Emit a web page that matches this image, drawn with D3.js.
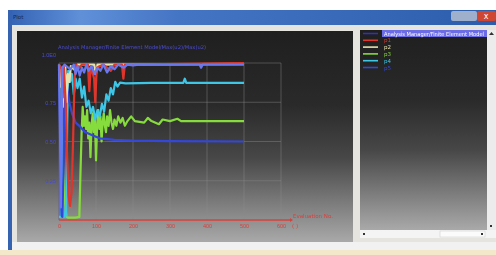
<!DOCTYPE html>
<html>
<head>
<meta charset="utf-8">
<script src="https://cdn.jsdelivr.net/npm/d3@7"></script>
<style>
body { margin: 0; background: #fff; }
svg { display: block; font-family: "DejaVu Sans", sans-serif; }
</style>
</head>
<body>
<svg id="chart" width="496" height="255"></svg>
<script>
// tick labels
const evalTicks = [0, 100, 200, 300, 400, 500, 600];
const valueTicks = [0.25, 0.5, 0.75, 1];
const valueLabels = ["0.25", "0.50", "0.75", "1.0E0"];

// legend entries
const legendNames = ["Analysis Manager/Finite Element Model", "p1", "p2", "p3", "p4", "p5"];
const legendColors = ["#6a78f0", "#e0352a", "#e6e2b0", "#86dc3c", "#3cc6e6", "#3446d8"];

// series values: [evaluation no., value]
const envelope = [[0,0.99],[3,0.5],[5,0.08],[7,0.5],[9,0.97],[15,0.99],[30,0.96],[40,0.99],[45,0.93],
  [50,0.98],[56,0.92],[62,0.97],[68,0.94],[74,0.99],[80,0.95],[88,0.98],[96,0.93],[104,0.97],[112,0.95],
  [120,0.99],[130,0.94],[140,0.98],[150,0.96],[160,0.99],[175,0.97],[185,0.99],[200,0.985],[215,0.99],
  [380,0.99],[384,0.97],[388,0.99],[500,0.99]];
const p1 = [[0,0.99],[6,0.97],[10,0.78],[13,0.98],[18,0.75],[22,0.4],[26,0.15],[30,0.09],[34,0.18],
  [38,0.5],[42,0.9],[46,0.99],[55,0.97],[62,0.99],[78,0.99],[82,0.82],[86,0.98],[95,0.9],[98,0.75],
  [102,0.97],[120,0.99],[140,0.95],[150,0.99],[170,0.99],[174,0.9],[178,0.99],[500,1.0]];
const p2 = [[0,0.99],[4,0.85],[7,0.96],[10,0.72],[13,0.9],[17,0.98],[20,0.75],[24,0.93],[28,0.88],
  [32,0.98],[40,0.96],[50,0.99],[95,0.99],[100,0.93],[104,0.99],[500,0.995]];
const p3 = [[0,0.96],[5,0.7],[10,0.4],[16,0.12],[20,0.02],[25,0.015],[35,0.015],[45,0.015],[55,0.02],
  [58,0.3],[61,0.55],[64,0.72],[67,0.6],[70,0.66],[73,0.58],[76,0.7],[79,0.52],[82,0.62],[85,0.4],
  [88,0.6],[91,0.68],[94,0.56],[97,0.64],[100,0.38],[103,0.6],[106,0.7],[109,0.58],[112,0.66],[115,0.5],
  [118,0.62],[121,0.68],[124,0.6],[127,0.56],[130,0.66],[134,0.6],[138,0.7],[142,0.62],[146,0.58],
  [150,0.64],[155,0.6],[160,0.66],[166,0.62],[172,0.65],[178,0.6],[185,0.63],[195,0.66],[205,0.63],
  [230,0.62],[240,0.65],[250,0.63],[270,0.61],[280,0.64],[300,0.63],[320,0.645],[330,0.63],[500,0.63]];
const p4 = [[0,0.02],[6,0.02],[9,0.55],[11,0.1],[14,0.02],[19,0.03],[22,0.6],[25,0.95],[30,0.88],
  [35,0.93],[40,0.8],[45,0.9],[50,0.84],[56,0.9],[62,0.78],[68,0.85],[74,0.72],[80,0.76],[86,0.68],
  [92,0.72],[98,0.64],[104,0.7],[110,0.66],[116,0.74],[122,0.69],[128,0.8],[134,0.76],[140,0.84],
  [146,0.8],[152,0.88],[158,0.85],[165,0.875],[180,0.87],[250,0.873],[336,0.873],[340,0.9],[344,0.873],
  [500,0.873]];
const p5 = [[0,0.98],[3,0.6],[5,0.2],[7,0.03],[9,0.02],[12,0.3],[14,0.8],[17,0.92],[22,0.85],[28,0.75],
  [35,0.68],[45,0.62],[55,0.6],[70,0.56],[90,0.54],[110,0.52],[150,0.51],[200,0.505],[300,0.502],
  [500,0.5]];

const svg = d3.select("#chart");
const defs = svg.append("defs");

function vGrad(id, stops) {
  const g = defs.append("linearGradient").attr("id", id)
    .attr("x1", 0).attr("y1", 0).attr("x2", 0).attr("y2", 1);
  stops.forEach(s => g.append("stop").attr("offset", s[0]).attr("stop-color", s[1]));
}
vGrad("panelGrad", [[0, "#1f1f1f"], [0.35, "#2a2a2a"], [0.6, "#474747"], [1, "#a9a9a9"]]);
const tb = defs.append("linearGradient").attr("id", "titleGrad");
[[0, "#3462b4"], [0.15, "#5f90d8"], [0.35, "#4474c4"], [0.7, "#3868b8"], [1, "#2c5cac"]]
  .forEach(s => tb.append("stop").attr("offset", s[0]).attr("stop-color", s[1]));
defs.append("filter").attr("id", "soft")
  .append("feGaussianBlur").attr("stdDeviation", 0.45);

// window chrome
svg.append("rect").attr("x", 8).attr("y", 10).attr("width", 488).attr("height", 242).attr("fill", "#e6e4df");
svg.append("rect").attr("x", 8).attr("y", 10).attr("width", 488).attr("height", 15).attr("fill", "url(#titleGrad)");
svg.append("rect").attr("x", 8).attr("y", 10).attr("width", 4).attr("height", 243).attr("fill", "#3563b2");
svg.append("text").attr("x", 13).attr("y", 19).attr("font-size", 5.5).attr("fill", "#1a2a44").text("Plot");
svg.append("rect").attr("x", 451).attr("y", 11).attr("width", 26).attr("height", 10).attr("rx", 2).attr("fill", "#9fb0cc");
svg.append("rect").attr("x", 477).attr("y", 11).attr("width", 19).attr("height", 10).attr("rx", 2).attr("fill", "#cf4632");
svg.append("text").attr("x", 486).attr("y", 19).attr("text-anchor", "middle").attr("font-size", 8).attr("fill", "#fff").text("x");
svg.append("rect").attr("x", 0).attr("y", 250).attr("width", 496).attr("height", 5).attr("fill", "#f4e8cb");
svg.append("rect").attr("x", 12).attr("y", 242).attr("width", 484).attr("height", 8).attr("fill", "#f1f1f1");

// panels
svg.append("rect").attr("x", 17).attr("y", 31).attr("width", 336).attr("height", 211).attr("fill", "url(#panelGrad)");
svg.append("rect").attr("x", 360).attr("y", 30).attr("width", 127).attr("height", 200).attr("fill", "url(#panelGrad)");
svg.append("rect").attr("x", 487).attr("y", 30).attr("width", 9).attr("height", 200).attr("fill", "#ececec");
svg.append("rect").attr("x", 360).attr("y", 230).attr("width", 136).attr("height", 8).attr("fill", "#f4f4f4");
svg.append("rect").attr("x", 440).attr("y", 231).attr("width", 45).attr("height", 6).attr("fill", "#fbfbfb").attr("stroke", "#c8c8c8").attr("stroke-width", 0.5);
[[364, 234], [482, 234], [491, 226]].forEach(p =>
  svg.append("rect").attr("x", p[0] - 1).attr("y", p[1] - 1).attr("width", 2).attr("height", 2).attr("fill", "#333"));
svg.append("path").attr("d", "M489,35 L491.5,32 L494,35 Z").attr("fill", "#333");

// plot
const x = d3.scaleLinear().domain([0, 600]).range([59, 281]);
const y = d3.scaleLinear().domain([0, 1]).range([220, 63]);
const plot = svg.append("g").attr("filter", "url(#soft)");

plot.append("g").selectAll("line").data(evalTicks.slice(1)).join("line")
  .attr("x1", d => x(d)).attr("x2", d => x(d)).attr("y1", y(0)).attr("y2", y(1))
  .attr("stroke", "#8a8a8a").attr("stroke-opacity", 0.55).attr("stroke-width", 0.8);
plot.append("g").selectAll("line").data(valueTicks).join("line")
  .attr("x1", x(0)).attr("x2", x(600)).attr("y1", d => y(d)).attr("y2", d => y(d))
  .attr("stroke", "#8a8a8a").attr("stroke-opacity", 0.55).attr("stroke-width", 0.8);
plot.append("line").attr("x1", x(0)).attr("x2", x(0)).attr("y1", y(0)).attr("y2", y(1))
  .attr("stroke", "#5a5a8a").attr("stroke-width", 0.8);

const line = d3.line().x(d => x(d[0])).y(d => y(d[1]));
const drawOrder = [[p3, 3], [p4, 4], [p5, 5], [p2, 2], [p1, 1], [envelope, 0]];
plot.append("g").selectAll("path").data(drawOrder).join("path")
  .attr("d", d => line(d[0])).attr("fill", "none")
  .attr("stroke", d => legendColors[d[1]]).attr("stroke-width", 2.2)
  .attr("stroke-linejoin", "round");

// x axis
const xAxis = plot.append("g").attr("transform", `translate(0,${y(0)})`)
  .call(d3.axisBottom(x).tickValues(evalTicks).tickSize(0).tickPadding(4).tickFormat(d3.format("d")));
xAxis.select(".domain").remove();
xAxis.selectAll("text").attr("fill", "#d8403c").attr("font-size", 5.5);
plot.append("line").attr("x1", x(0)).attr("x2", 290).attr("y1", y(0)).attr("y2", y(0))
  .attr("stroke", "#d8403c").attr("stroke-width", 1.3);
plot.append("path").attr("d", `M290,${y(0) - 2} L293,${y(0)} L290,${y(0) + 2} Z`).attr("fill", "#d8403c");
plot.append("text").attr("x", 293).attr("y", y(0) - 2).attr("font-size", 5.5).attr("fill", "#d8403c").text("Evaluation No.");
plot.append("text").attr("x", 292).attr("y", y(0) + 8).attr("font-size", 5.5).attr("fill", "#d8403c").text("( )");

// y axis labels
const yAxis = plot.append("g").attr("transform", `translate(${x(0) - 1},0)`)
  .call(d3.axisLeft(y).tickValues(valueTicks).tickSize(0).tickPadding(2)
    .tickFormat((d, i) => valueLabels[i]));
yAxis.select(".domain").remove();
yAxis.selectAll("text").attr("fill", "#4a4ad6").attr("font-size", 5.5);
yAxis.selectAll(".tick").filter(d => d === 1).select("text").attr("dy", "-1.2em");

plot.append("text").attr("x", 58).attr("y", 49).attr("font-size", 5.2).attr("fill", "#4a4ad6")
  .text("Analysis Manager/Finite Element Model/Max(u2)/Max(u2)");

// legend
const legend = svg.append("g").attr("filter", "url(#soft)");
legend.append("rect").attr("x", 382).attr("y", 30).attr("width", 105).attr("height", 7).attr("fill", "#6c6ce6");
const rows = legend.selectAll("g.row").data(legendNames).join("g").attr("class", "row")
  .attr("transform", (d, i) => `translate(0,${33.5 + i * 6.8})`);
rows.append("line").attr("x1", 363).attr("x2", 378)
  .attr("stroke", (d, i) => i === 0 ? "#3034a8" : legendColors[i]).attr("stroke-width", 1.6);
rows.append("text").attr("x", 384).attr("y", 2).attr("font-size", 5.5)
  .attr("fill", (d, i) => i === 0 ? "#ffffff" : legendColors[i]).text(d => d)
  .filter((d, i) => i === 0)
  .attr("textLength", 100).attr("lengthAdjust", "spacingAndGlyphs");
</script>
</body>
</html>
